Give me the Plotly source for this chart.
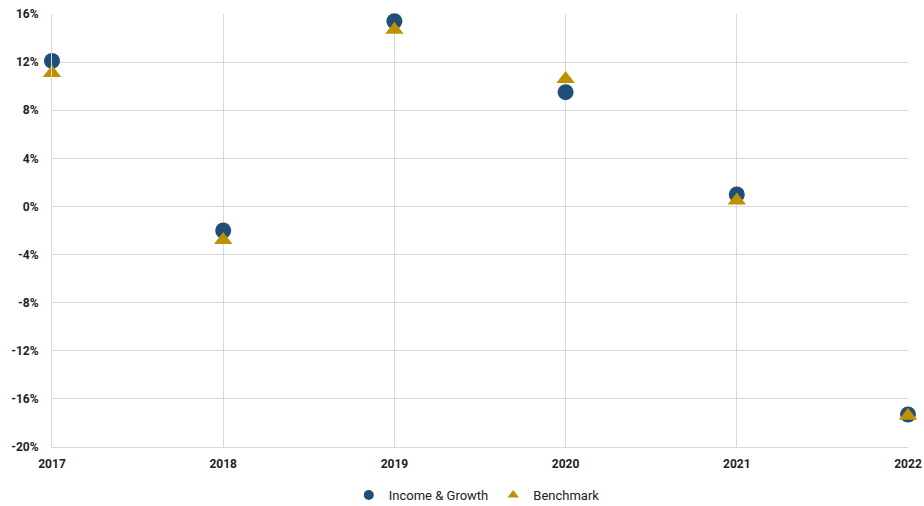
import plotly.graph_objects as go

years = [2017, 2018, 2019, 2020, 2021, 2022]
income_growth = [12.1, -2.0, 15.4, 9.5, 1.0, -17.3]
benchmark = [11.1, -2.8, 14.7, 10.6, 0.5, -17.4]
y_ticks = [16, 12, 8, 4, 0, -4, -8, -12, -16, -20]

BLUE = "#1F4E79"
GOLD = "#BF9000"

fig = go.Figure()
fig.add_trace(go.Scatter(
    x=years, y=income_growth, mode="markers", name="Income & Growth", showlegend=False,
    marker=dict(symbol="circle", size=16, color=BLUE), cliponaxis=False))
fig.add_trace(go.Scatter(
    x=years, y=benchmark, mode="markers", name="Benchmark", showlegend=False,
    marker=dict(symbol="triangle-up", size=16, color=GOLD), cliponaxis=False))
# legend entries with smaller symbols
fig.add_trace(go.Scatter(x=[None], y=[None], mode="markers", name="Income & Growth",
                         marker=dict(symbol="circle", size=10, color=BLUE)))
fig.add_trace(go.Scatter(x=[None], y=[None], mode="markers", name="Benchmark",
                         marker=dict(symbol="triangle-up", size=10, color=GOLD)))

fig.update_layout(
    width=924, height=506,
    margin=dict(l=52, r=16, t=14, b=59, autoexpand=False),
    paper_bgcolor="white", plot_bgcolor="white",
    font=dict(family="Roboto", color="#222222", size=12),
    showlegend=True,
    legend=dict(orientation="h", x=0.516, xanchor="center", xref="container",
                y=11/506, yanchor="middle", yref="container",
                font=dict(size=13, family="Roboto", color="#222222"),
                itemwidth=30, tracegroupgap=0),
)
fig.update_xaxes(
    range=[2017, 2022], tickvals=years, ticktext=[str(y) for y in years],
    showgrid=True, gridcolor="#D9D9D9", gridwidth=1, automargin=False,
    showline=True, linecolor="#D9D9D9", mirror=False, zeroline=False,
    tickfont=dict(family="Roboto", size=12, weight="bold"), ticks="", ticklabelstandoff=6)
fig.update_yaxes(
    range=[-20, 16], tickvals=y_ticks, ticktext=[f"{v}%" for v in y_ticks],
    showgrid=True, gridcolor="#D9D9D9", gridwidth=1, automargin=False,
    showline=True, linecolor="#D9D9D9", zeroline=False,
    tickfont=dict(family="Roboto", size=12, weight="bold"), ticks="", ticklabelstandoff=10)

fig.write_html("out.html")
